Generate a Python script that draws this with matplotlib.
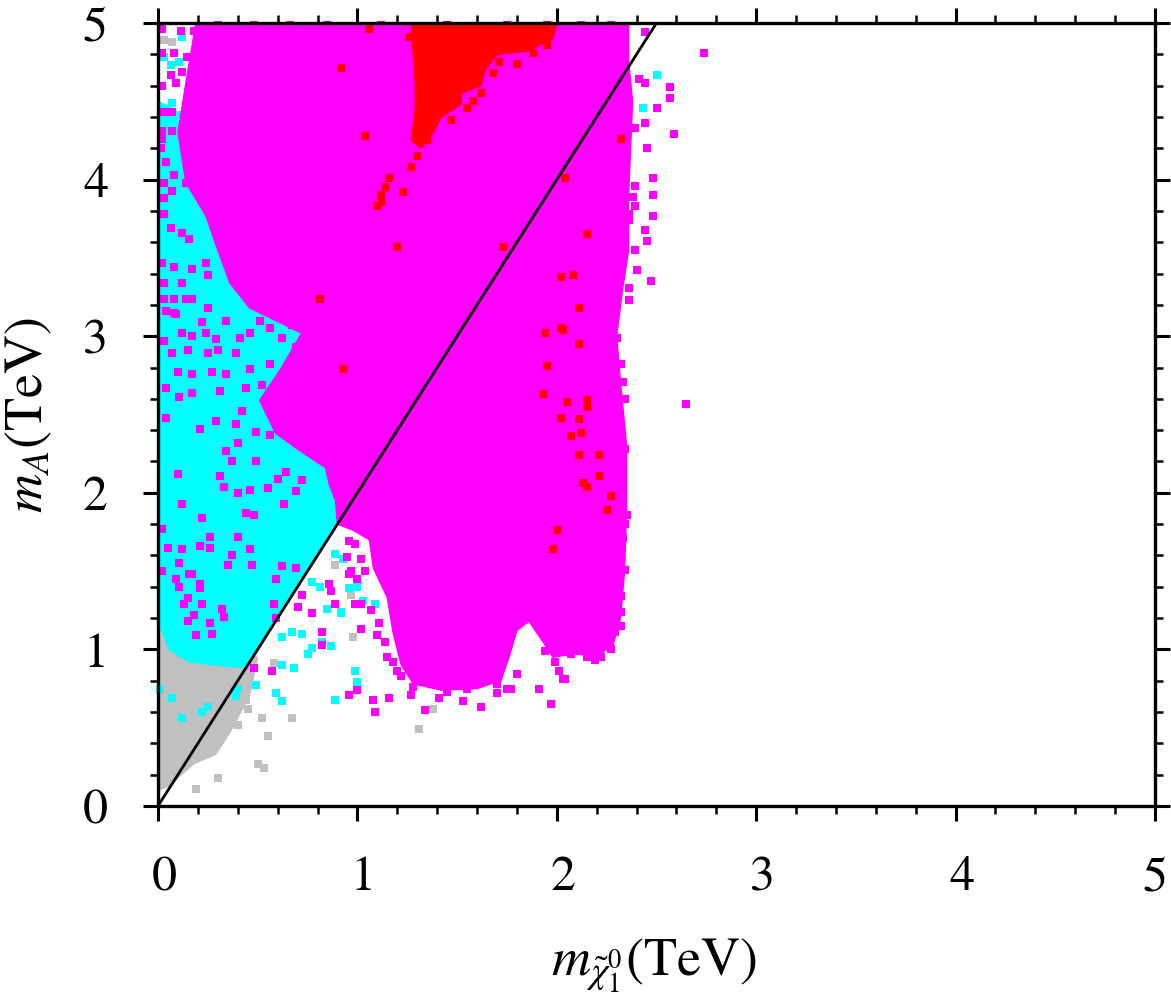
import matplotlib
matplotlib.use("Agg")
import matplotlib.pyplot as plt
import matplotlib.transforms as mtransforms
from matplotlib.ticker import MultipleLocator
import numpy as np

plt.rcParams['font.family'] = ['STIXGeneral', 'DejaVu Serif']
plt.rcParams['mathtext.fontset'] = 'stix'

# ---------------- data (TeV) ----------------
GREY = '#c0c0c0'
CYAN = '#00ffff'
MAGENTA = '#ff00ff'
RED = '#ff0000'

# dense-region outlines (m_chi, m_A)
grey_region_x = [0.00, 0.06, 0.10, 0.18, 0.29, 0.37, 0.46, 0.50, 0.30, 0.00]
grey_region_y = [0.10, 0.13, 0.18, 0.27, 0.33, 0.49, 0.71, 0.95, 1.00, 1.40]

cyan_region_x = [0.00, 0.055, 0.155, 0.29, 0.44, 0.60, 0.72, 0.80, 0.88, 0.95, 0.95, 0.50, 0.25, 0.12, 0.08, 0.00]
cyan_region_y = [1.18, 1.00, 0.92, 0.90, 0.88, 1.20, 1.45, 1.62, 1.76, 1.95, 3.00, 3.40, 3.90, 4.30, 4.45, 4.50]

magenta_region_x = [0.19, 2.36, 2.36, 2.38, 2.37, 2.36, 2.36, 2.33, 2.30, 2.32, 2.35, 2.35, 2.34, 2.32,
                    2.28, 2.20, 2.08, 1.98, 1.93, 1.86, 1.80, 1.76, 1.72, 1.60, 1.42, 1.28, 1.22, 1.18,
                    1.15, 1.08, 1.06, 0.98, 0.90, 0.89, 0.86, 0.84, 0.71, 0.59, 0.51, 0.62, 0.72, 0.46,
                    0.36, 0.30, 0.24, 0.14, 0.10, 0.14]
magenta_region_y = [5.00, 5.00, 4.76, 4.50, 4.20, 3.90, 3.55, 3.30, 3.00, 2.70, 2.30, 1.90, 1.50, 1.20,
                    1.02, 0.96, 0.97, 0.95, 1.05, 1.18, 1.12, 0.95, 0.80, 0.75, 0.74, 0.78, 0.90, 1.10,
                    1.33, 1.52, 1.70, 1.76, 1.80, 1.95, 2.05, 2.16, 2.27, 2.38, 2.59, 2.80, 3.02, 3.18,
                    3.34, 3.55, 3.77, 3.98, 4.30, 4.62]

red_region_x = [1.27, 2.00, 1.98, 1.85, 1.70, 1.64, 1.62, 1.52, 1.52, 1.42, 1.38, 1.32, 1.27, 1.29, 1.29, 1.28]
red_region_y = [5.00, 5.00, 4.90, 4.82, 4.80, 4.70, 4.60, 4.55, 4.48, 4.40, 4.30, 4.20, 4.25, 4.45, 4.62, 4.80]

# individual points outside / on top of the dense regions
grey_points = [(0.44, 0.68), (0.45, 0.62), (0.52, 0.56), (0.55, 0.45), (0.67, 0.56), (0.50, 0.27),
               (0.53, 0.24), (0.30, 0.18), (0.19, 0.11), (0.40, 0.52), (0.58, 0.91), (0.98, 1.08),
               (0.89, 1.54), (1.31, 0.49), (1.38, 0.62), (0.97, 1.35), (0.03, 4.89), (0.07, 4.88),
               (0.045, 4.36), (0.055, 4.25), (0.03, 4.17), (0.04, 3.83), (0.065, 3.58), (0.095, 3.53),
               (0.02, 3.10), (0.04, 2.85), (0.03, 2.55), (0.06, 2.30)]

cyan_points = [(0.52, 1.31), (0.62, 1.08), (0.67, 1.11), (0.72, 1.10), (0.77, 1.01), (0.75, 0.97),
               (0.82, 1.05), (0.87, 1.02), (0.62, 0.90), (0.68, 0.88), (0.49, 0.77), (0.59, 0.72),
               (0.62, 0.67), (0.39, 0.70), (0.40, 0.75), (0.89, 0.68), (0.99, 0.86), (1.00, 0.79),
               (0.85, 1.26), (0.92, 1.23), (0.96, 1.39), (1.00, 1.40), (1.09, 1.29), (0.81, 1.40),
               (0.77, 1.43), (0.25, 0.63), (0.22, 0.60), (0.12, 0.56), (0.07, 0.69), (0.01, 0.75),
               (0.89, 1.61), (0.93, 1.58), (1.03, 1.31), (0.92, 1.24), (2.50, 4.67), (2.43, 4.46),
               (0.12, 4.91), (0.065, 4.73), (0.105, 4.75), (0.03, 4.78), (0.22, 4.96), (0.03, 4.35),
               (0.055, 4.20), (0.05, 4.11), (0.105, 4.41), (0.07, 4.49), (0.74, 3.05), (0.78, 3.00),
               (0.58, 2.62), (0.55, 2.50), (0.75, 2.22), (0.82, 2.10)]

magenta_points = [
    (0.04, 2.67), (0.105, 2.61), (0.17, 2.64), (0.04, 2.48), (0.21, 2.41), (0.29, 2.46), (0.39, 2.44),
    (0.31, 2.65), (0.34, 2.76), (0.10, 2.12), (0.31, 2.11), (0.37, 2.20), (0.34, 2.27), (0.40, 2.32),
    (0.49, 2.20), (0.33, 2.04), (0.40, 2.00), (0.46, 2.02), (0.55, 2.03), (0.60, 2.09), (0.64, 2.13),
    (0.72, 2.08), (0.69, 2.01), (0.12, 1.93), (0.22, 1.84), (0.44, 1.87), (0.48, 1.86), (0.63, 1.93),
    (0.02, 1.77), (0.26, 1.72), (0.40, 1.72), (0.12, 1.64), (0.05, 1.65), (0.21, 1.66), (0.26, 1.65),
    (0.37, 1.60), (0.46, 1.64), (0.62, 1.53), (0.69, 1.52), (0.35, 1.54), (0.105, 1.55), (0.17, 1.48),
    (0.21, 1.42), (0.59, 1.45), (0.09, 1.45), (0.02, 1.50),
    (0.04, 3.16), (0.09, 3.14), (0.22, 3.09), (0.12, 3.02), (0.17, 3.00), (0.24, 3.02), (0.29, 2.98),
    (0.07, 2.89), (0.15, 2.91), (0.25, 2.89), (0.30, 2.91), (0.39, 2.89), (0.41, 2.99), (0.46, 3.02),
    (0.17, 2.76), (0.10, 2.77), (0.27, 2.77), (0.03, 2.97), (0.34, 3.10), (0.51, 3.10), (0.56, 3.05),
    (0.67, 3.07), (0.62, 2.99), (0.69, 2.93), (0.56, 2.82), (0.46, 2.79), (0.52, 2.69), (0.44, 2.67),
    (0.42, 2.52), (0.49, 2.39), (0.56, 2.37),
    (0.155, 1.48), (0.105, 1.40), (0.21, 1.39), (0.15, 1.33), (0.22, 1.29), (0.13, 1.29), (0.32, 1.26),
    (0.18, 1.22), (0.26, 1.17), (0.33, 1.21), (0.15, 1.18), (0.19, 1.09), (0.27, 1.10), (0.47, 1.54),
    (0.72, 1.35), (0.58, 1.29), (0.70, 1.27), (0.77, 1.23), (0.59, 1.20), (0.82, 1.11), (0.82, 1.03),
    (0.48, 0.88), (0.57, 0.86), (0.86, 1.42), (0.89, 1.29), (0.87, 1.37), (0.96, 1.48), (1.04, 1.50),
    (1.02, 1.13), (1.10, 1.09), (0.99, 1.29), (1.11, 1.17), (0.96, 0.71), (1.00, 0.74), (1.08, 0.68),
    (1.09, 0.60), (1.16, 0.69), (1.07, 1.25),
    (1.34, 0.61), (1.53, 0.67), (1.62, 0.63), (1.80, 0.84), (1.91, 0.75), (1.97, 0.65), (2.04, 0.81),
    (1.80, 1.37), (1.82, 1.34), (1.85, 1.22), (1.91, 1.35),
    (2.34, 2.28), (2.35, 1.86), (2.34, 1.80), (2.33, 1.71), (2.34, 1.51), (2.32, 1.34), (2.32, 1.24),
    (2.32, 1.15), (2.29, 1.11), (2.27, 1.00), (2.22, 0.95), (2.19, 0.93), (2.15, 0.95), (2.07, 0.97),
    (2.01, 0.86), (2.03, 0.81), (1.99, 0.92), (1.94, 0.99), (1.75, 1.00), (1.73, 1.09), (1.78, 1.13),
    (1.71, 0.92), (1.65, 0.81), (1.70, 0.78), (1.75, 0.75), (1.77, 0.75), (1.70, 0.72), (1.55, 0.75),
    (1.41, 0.69), (1.45, 0.73), (1.45, 0.88), (1.28, 0.76), (1.27, 0.71), (1.22, 0.83), (1.20, 0.86),
    (1.18, 0.92), (1.14, 1.05), (1.15, 0.95), (1.02, 1.29), (1.00, 1.45), (0.97, 1.50), (0.95, 1.59),
    (1.02, 1.58), (0.96, 1.69), (0.99, 1.67),
    (2.44, 4.94), (2.34, 4.96), (2.41, 4.64), (2.44, 4.62), (2.50, 4.46), (2.39, 4.33), (2.44, 4.36),
    (2.45, 4.20), (2.39, 3.96), (2.38, 3.89), (2.39, 3.83), (2.36, 3.78), (2.36, 3.74), (2.45, 3.61),
    (2.39, 3.55), (2.36, 3.31), (2.36, 3.23), (2.28, 3.27), (2.30, 2.99), (2.32, 2.82), (2.33, 2.71),
    (2.34, 2.60),
    (2.74, 4.81), (2.57, 4.59), (2.57, 4.52), (2.59, 4.29), (2.48, 4.01), (2.48, 3.90), (2.48, 3.77),
    (2.44, 3.68), (2.40, 3.42), (2.47, 3.35), (2.65, 2.57),
    (0.02, 4.96), (0.115, 4.95), (0.18, 4.95), (0.08, 4.81), (0.145, 4.78), (0.02, 4.81), (0.065, 4.67),
    (0.12, 4.69), (0.09, 4.62), (0.02, 4.60), (0.03, 4.43), (0.07, 4.43), (0.02, 4.31), (0.07, 4.31),
    (0.02, 4.26), (0.015, 4.20), (0.04, 4.11), (0.08, 4.03), (0.03, 3.98), (0.14, 3.98), (0.07, 3.93),
    (0.03, 3.88), (0.03, 3.78), (0.065, 3.69), (0.12, 3.66), (0.155, 3.62), (0.02, 3.47), (0.08, 3.44),
    (0.12, 3.34), (0.03, 3.34), (0.24, 3.47), (0.25, 3.39), (0.17, 3.43), (0.03, 3.24), (0.08, 3.24),
    (0.14, 3.24), (0.17, 3.24), (0.25, 3.18), (0.08, 3.15),
    (0.30, 4.985), (0.48, 4.985), (0.66, 4.985), (0.85, 4.985), (1.12, 4.985), (2.12, 4.985), (2.27, 4.985)]

red_points = [(1.06, 4.96), (0.92, 4.71), (1.04, 4.28), (1.16, 4.01), (1.14, 3.95), (1.23, 3.92),
              (1.12, 3.90), (1.12, 3.86), (1.10, 3.83), (1.20, 3.57), (1.73, 3.57), (0.81, 3.24),
              (0.93, 2.79), (2.04, 4.01), (2.15, 3.65), (2.32, 4.26), (2.02, 3.38), (2.08, 3.39),
              (2.11, 3.18), (2.02, 3.05), (2.03, 3.04), (1.94, 3.02), (2.11, 2.95), (1.95, 2.81),
              (1.93, 2.63), (2.05, 2.58), (2.15, 2.59), (2.15, 2.55), (2.02, 2.48), (2.11, 2.47),
              (2.07, 2.36), (2.12, 2.38), (2.11, 2.24), (2.21, 2.24), (2.21, 2.11), (2.13, 2.06),
              (2.15, 2.04), (2.27, 1.98), (2.25, 1.89), (2.00, 1.76), (1.98, 1.64), (1.26, 4.91),
              (1.58, 4.50), (1.71, 4.75), (1.88, 4.81), (1.45, 4.985), (1.75, 4.985), (1.95, 4.985),
              (1.30, 4.15), (1.27, 4.08), (1.35, 4.25), (1.47, 4.38), (1.55, 4.46), (1.62, 4.55),
              (1.68, 4.68), (1.80, 4.74), (1.95, 4.86)]

# kinematic line m_A = 2 m_chi
diag_x = np.array([0.0, 2.5])
diag_y = 2.0 * diag_x

x_ticks = [0, 1, 2, 3, 4, 5]
y_ticks = [0, 1, 2, 3, 4, 5]

# ---------------- figure ----------------
W, H = 1171, 994
fig = plt.figure(figsize=(W / 100, H / 100), dpi=100)
ax = fig.add_axes([158 / W, 1 - 806 / H, 997 / W, 783 / H])

ms = 38
ax.fill(grey_region_x, grey_region_y, fc=GREY, ec=GREY, lw=1.0, zorder=1)
gp = np.array(grey_points)
ax.scatter(gp[:, 0], gp[:, 1], s=ms, marker='s', c=GREY, linewidths=0, zorder=1.5, clip_on=False)

ax.fill(cyan_region_x, cyan_region_y, fc=CYAN, ec=CYAN, lw=1.0, zorder=2)
cp = np.array(cyan_points)
ax.scatter(cp[:, 0], cp[:, 1], s=ms, marker='s', c=CYAN, linewidths=0, zorder=2.5, clip_on=False)

ax.fill(magenta_region_x, magenta_region_y, fc=MAGENTA, ec=MAGENTA, lw=1.0, zorder=3)
mp = np.array(magenta_points)
ax.scatter(mp[:, 0], mp[:, 1], s=ms, marker='s', c=MAGENTA, linewidths=0, zorder=3.5, clip_on=False)

ax.fill(red_region_x, red_region_y, fc=RED, ec=RED, lw=1.0, zorder=4)
rp = np.array(red_points)
ax.scatter(rp[:, 0], rp[:, 1], s=ms, marker='s', c=RED, linewidths=0, zorder=4.5, clip_on=False)

ax.plot(diag_x, diag_y, color='black', lw=2.0, zorder=6)

ax.set_xlim(0, 5)
ax.set_ylim(0, 5)
ax.set_xticks(x_ticks)
ax.set_yticks(y_ticks)
ax.xaxis.set_minor_locator(MultipleLocator(0.2))
ax.yaxis.set_minor_locator(MultipleLocator(0.2))
ax.tick_params(which='both', direction='out', top=True, right=True, labeltop=False, labelright=False)
ax.tick_params(which='major', length=11, width=2.2, labelsize=36, pad=25)
ax.tick_params(which='minor', length=5.8, width=1.8)
for s in ax.spines.values():
    s.set_linewidth(2.4)
    s.set_zorder(7)

# small horizontal offset of the x tick labels as in the original (last one kept inside the figure)
shift = mtransforms.ScaledTranslation(6 / 100, 0, fig.dpi_scale_trans)
for lab in ax.get_xticklabels()[:-1]:
    lab.set_transform(lab.get_transform() + shift)

fig.text(654 / W, 1 - 966 / H, r'$m_{\tilde{\chi}_1^0}$(TeV)', fontsize=39, ha='center', va='center')
fig.text(29 / W, 1 - 415 / H, r'$m_A$(TeV)', fontsize=39, ha='center', va='center', rotation=90)

fig.savefig('out.png', dpi=100)
